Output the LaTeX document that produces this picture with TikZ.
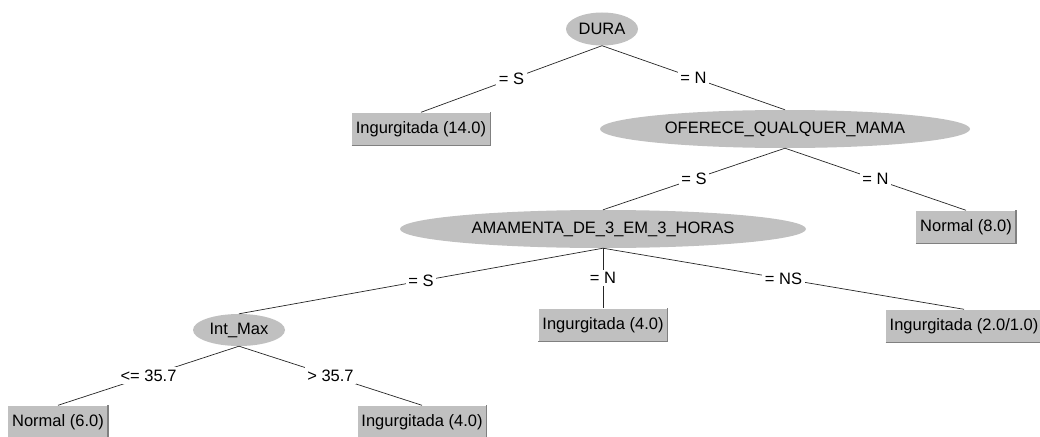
\documentclass[tikz,border=0pt]{standalone}
\usepackage{fontspec}
\setmainfont{Liberation Sans}
\usetikzlibrary{shapes.geometric}
\definecolor{nodegray}{RGB}{192,192,192}
\definecolor{darkedge}{RGB}{128,128,128}
\begin{document}
\begin{tikzpicture}[x=1pt,y=-1pt,
  every node/.style={font=\fontsize{16.5}{18}\selectfont},
  split/.style={ellipse, fill=nodegray, inner sep=0pt},
  leaf/.style={rectangle, fill=nodegray, minimum height=33pt, inner xsep=4pt, inner ysep=0pt},
  edge/.style={draw=black!85, line width=0.7pt},
  lab/.style={fill=white, inner sep=2.5pt}]
\useasboundingbox[fill=white] (0,0) rectangle (1040,436);

\node[split, minimum width=72pt, minimum height=33pt] (dura) at (602,29) {DURA};
\node[leaf] (l14) at (421,129) {Ingurgitada (14.0)};
\node[split, minimum width=370pt, minimum height=38pt] (ofer) at (785,129) {OFERECE\_QUALQUER\_MAMA};
\node[leaf] (n8) at (966,227) {Normal (8.0)};
\node[split, minimum width=406pt, minimum height=38pt] (amam) at (603,229) {AMAMENTA\_DE\_3\_EM\_3\_HORAS};
\node[leaf] (l4a) at (603,325) {Ingurgitada (4.0)};
\node[leaf] (l21) at (964,326) {Ingurgitada (2.0/1.0)};
\node[split, minimum width=92pt, minimum height=32pt] (imax) at (239,330) {Int\_Max};
\node[leaf] (n6) at (58,422) {Normal (6.0)};
\node[leaf] (l4b) at (422,422) {Ingurgitada (4.0)};

\foreach \n in {l14,n8,l4a,l21,n6,l4b}{
  \draw[white, line width=1pt] (\n.south west) -- (\n.north west) -- (\n.north east);
  \draw[darkedge, line width=1.2pt] (\n.south west) -- (\n.south east) -- (\n.north east);
}

\path[edge] (dura.south) -- node[lab] {= S} (l14.north);
\path[edge] (dura.south) -- node[lab] {= N} (ofer.north);
\path[edge] (ofer.south) -- node[lab] {= S} (amam.north);
\path[edge] (ofer.south) -- node[lab] {= N} (n8.north);
\path[edge] (amam.south) -- node[lab] {= S} (imax.north);
\path[edge] (amam.south) -- node[lab] {= N} (l4a.north);
\path[edge] (amam.south) -- node[lab] {= NS} (l21.north);
\path[edge] (imax.south) -- node[lab] {<= 35.7} (n6.north);
\path[edge] (imax.south) -- node[lab] {> 35.7} (l4b.north);
\end{tikzpicture}
\end{document}
